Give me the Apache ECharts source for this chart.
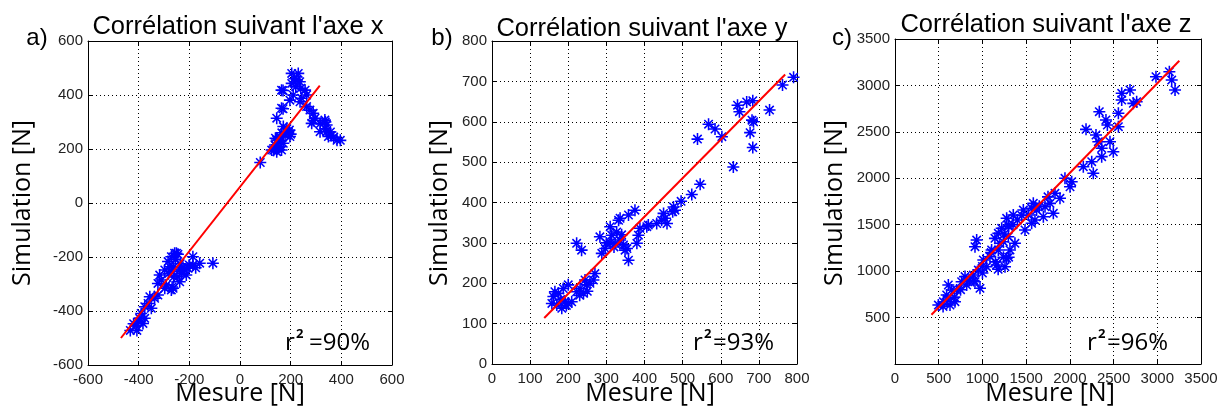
<!DOCTYPE html>
<html><head><meta charset="utf-8">
<script src="https://cdn.jsdelivr.net/npm/echarts@6/dist/echarts.min.js"></script>
<style>html,body{margin:0;padding:0;background:#fff}#c{width:1218px;height:407px}</style>
</head><body><div id="c"></div>
<script>
// Panel a) – axe x : [mesure, simulation]
const ptsA = [[80,150],[133,195],[145,233],[158,246],[138,215],[158,209],[171,221],[125,196],[145,190],[164,196],[150,205],[160,230],[140,240],[165,260],[178,252],[190,264],[197,246],[171,283],[184,264],[185,275],[195,270],[200,255],[145,314],[164,351],[170,349],[164,418],[170,417],[197,381],[210,400],[204,443],[204,480],[230,480],[225,456],[236,449],[215,460],[220,430],[240,425],[257,418],[263,400],[243,388],[237,375],[263,357],[276,344],[289,332],[296,314],[283,295],[290,306],[335,307],[342,289],[316,264],[342,264],[349,246],[357,263],[337,275],[370,244],[383,232],[396,232],[317,294],[337,300],[360,250],
[-107,-223],[-159,-223],[-186,-199],[-186,-230],[-205,-242],[-218,-248],[-212,-267],[-251,-186],[-271,-199],[-284,-217],[-278,-236],[-297,-248],[-271,-254],[-238,-248],[-245,-273],[-238,-292],[-264,-316],[-271,-322],[-291,-304],[-297,-316],[-317,-267],[-311,-285],[-324,-298],[-324,-341],[-337,-353],[-356,-347],[-363,-372],[-376,-384],[-350,-390],[-390,-409],[-396,-427],[-383,-446],[-376,-427],[-433,-472],[-407,-472],[-420,-447],[-236,-225],[-262,-237],[-255,-210],[-282,-262],[-262,-274],[-268,-311],[-230,-260],[-225,-240],[-200,-230],[-175,-240],[-245,-190],[-258,-186],[-400,-440],[-410,-455]];
// Panel b) – axe y
const ptsB = [[161,167],[174,175],[192,154],[200,150],[209,154],[183,138],[165,179],[187,187],[200,196],[157,150],[170,146],[222,179],[231,187],[240,175],[248,196],[257,200],[244,208],[270,224],[266,208],[283,315],[288,274],[297,286],[310,340],[314,319],[327,327],[332,356],[336,361],[358,369],[375,381],[323,299],[336,307],[345,295],[349,282],[354,286],[358,257],[222,299],[235,282],[388,336],[384,319],[380,299],[406,340],[410,344],[432,348],[445,356],[450,373],[454,361],[459,348],[476,389],[474,377],[480,381],[496,403],[524,420],[546,445],[539,557],[568,594],[585,582],[603,563],[633,488],[644,641],[649,625],[668,649],[684,652],[682,604],[686,600],[677,573],[684,536],[728,629],[762,691],[791,710],[300,300],[320,290],[340,320],[310,300],[180,160],[195,145],[230,170],[250,180]];
// Panel c) – axe z
const ptsC = [[496,635],[553,671],[629,635],[686,671],[610,851],[648,797],[591,743],[705,797],[762,886],[820,851],[801,941],[896,958],[953,1012],[972,815],[915,886],[934,1335],[915,1263],[1010,1120],[1048,1048],[1105,1228],[1086,1155],[1162,1066],[1277,1138],[1258,1048],[1143,1353],[1182,1407],[1220,1461],[1296,1497],[1239,1317],[1296,1371],[1372,1300],[1353,1605],[1277,1569],[1468,1658],[1525,1605],[1563,1677],[1487,1443],[1182,1228],[1315,1228],[1582,1730],[1601,1551],[1563,1515],[1620,1658],[1697,1586],[1716,1694],[1773,1730],[1811,1623],[1830,1838],[1887,1784],[1944,2000],[2021,1963],[2002,1909],[2154,2125],[2250,2179],[2268,2054],[2185,2527],[2299,2466],[2326,2394],[2459,2394],[2497,2286],[2364,2323],[2364,2233],[2337,2717],[2413,2628],[2429,2574],[2555,2700],[2555,2556],[2593,2915],[2688,2951],[2593,2843],[2726,2807],[2764,2825],[2985,3094],[3138,3148],[3165,3058],[3203,2951],[550,620],[600,700],[680,720],[750,800],[850,900],[1000,1050],[1100,1200],[1200,1300],[1250,1400],[1300,1480],[1350,1500],[1400,1550],[1450,1600],[1650,1700],[1750,1800],[1300,1150],[1240,1150],[1180,1020],[1150,1100],[900,900],[1000,980]];
// Regression lines (end points)
const fitA = [[-470,-500],[315,435]];
const fitB = [[137,114],[769,717]];
const fitC = [[417,531],[3252,3266]];
// Texts
const titles = ["Corrélation suivant l'axe x","Corrélation suivant l'axe y","Corrélation suivant l'axe z"];
const letters = ["a)","b)","c)"];
const r2 = ["=90%","=93%","=96%"];
const xName = "Mesure [N]";
const yName = "Simulation [N]";
// Axis ranges
const rangeA = [-600,600,200];
const rangeB = [0,800,100];
const rangeC = [0,3500,500];

const chart = echarts.init(document.getElementById('c'), null, {renderer:'canvas'});
const grids = [
  {left:88, top:41, width:304, height:324},
  {left:492, top:41, width:305, height:323},
  {left:895, top:39, width:306, height:325}
];
const ranges = [rangeA, rangeB, rangeC];
const ast = 'path://M-0.65,-5L0.65,-5L0.65,5L-0.65,5Z M-5,-0.65L5,-0.65L5,0.65L-5,0.65Z M-3.04,-3.96L3.96,3.04L3.04,3.96L-3.96,-3.04Z M3.96,-3.04L-3.04,3.96L-3.96,3.04L3.04,-3.96Z';
const lab = {fontFamily:'Liberation Sans', fontSize:15, color:'#222', margin:5, showMinLabel:true, showMaxLabel:true};
const xAxes=[], yAxes=[];
ranges.forEach((r,i)=>{
  const base = {type:'value', min:r[0], max:r[1], interval:r[2], gridIndex:i,
    axisLine:{show:true, onZero:false, lineStyle:{color:'#000', width:1}},
    axisTick:{show:true, inside:true, length:4, lineStyle:{color:'#000'}}};
  xAxes.push(Object.assign({}, base, {position:'bottom',
    axisLabel:Object.assign({}, lab, {margin:7, formatter: v => String(v)}),
    splitLine:{show:true, lineStyle:{color:'#000', type:[1,3], width:1}}}));
  xAxes.push(Object.assign({}, base, {position:'top', axisLabel:{show:false}, splitLine:{show:false}}));
  yAxes.push(Object.assign({}, base, {position:'left',
    axisLabel:Object.assign({}, lab, {formatter: v => (i===2 && v===0) ? '' : String(v)}),
    splitLine:{show:true, lineStyle:{color:'#000', type:[1,3], width:1}}}));
  yAxes.push(Object.assign({}, base, {position:'right', axisLabel:{show:false}, splitLine:{show:false}}));
});
const pts=[ptsA,ptsB,ptsC], fits=[fitA,fitB,fitC];
const series=[];
pts.forEach((p,i)=>{
  series.push({type:'scatter', xAxisIndex:2*i, yAxisIndex:2*i, data:p, symbol:ast, symbolSize:12,
    itemStyle:{color:'#0000ff', opacity:1}, silent:true, z:2});
  series.push({type:'line', xAxisIndex:2*i, yAxisIndex:2*i, data:fits[i], symbol:'none',
    lineStyle:{color:'#ff0000', width:2}, silent:true, z:3});
});
const titleX=[238,642,1046], titleY=[27,29,25];
const letterX=[37,442,842];
const yNameX=[23,440,835];
const xNameX=[240,650,1050];
const r2X=[285,693,1087];
const r2Off=[24,20,20];
const graphic=[];
for(let i=0;i<3;i++){
  graphic.push({type:'text', x:titleX[i], y:titleY[i], style:{text:titles[i], font:'25.5px "Liberation Sans"', fill:'#000', textAlign:'center', textVerticalAlign:'middle'}});
  graphic.push({type:'text', x:letterX[i], y:38, style:{text:letters[i], font:'24px "Liberation Sans"', fill:'#000', textAlign:'center', textVerticalAlign:'middle'}});
  graphic.push({type:'text', x:yNameX[i], y:203, rotation:Math.PI/2, style:{text:yName, font:'25px "Open Sans"', fill:'#000', textAlign:'center', textVerticalAlign:'middle'}});
  graphic.push({type:'text', x:xNameX[i], y:394, style:{text:xName, font:'25px "Open Sans"', fill:'#000', textAlign:'center', textVerticalAlign:'middle'}});
  graphic.push({type:'text', x:r2X[i], y:343, style:{text:'r', font:'24px "Open Sans"', fill:'#000', textAlign:'left', textVerticalAlign:'middle'}});
  graphic.push({type:'text', x:r2X[i]+11, y:334.5, style:{text:'2', font:'bold 13px "Open Sans"', fill:'#000', textAlign:'left', textVerticalAlign:'middle'}});
  graphic.push({type:'text', x:r2X[i]+r2Off[i], y:343, style:{text:r2[i], font:'24px "Open Sans"', fill:'#000', textAlign:'left', textVerticalAlign:'middle'}});
}
chart.setOption({
  animation:false,
  grid: grids.map(g=>Object.assign({containLabel:false, outerBoundsMode:'none'}, g)),
  xAxis:xAxes, yAxis:yAxes, series, graphic
});
</script></body></html>
